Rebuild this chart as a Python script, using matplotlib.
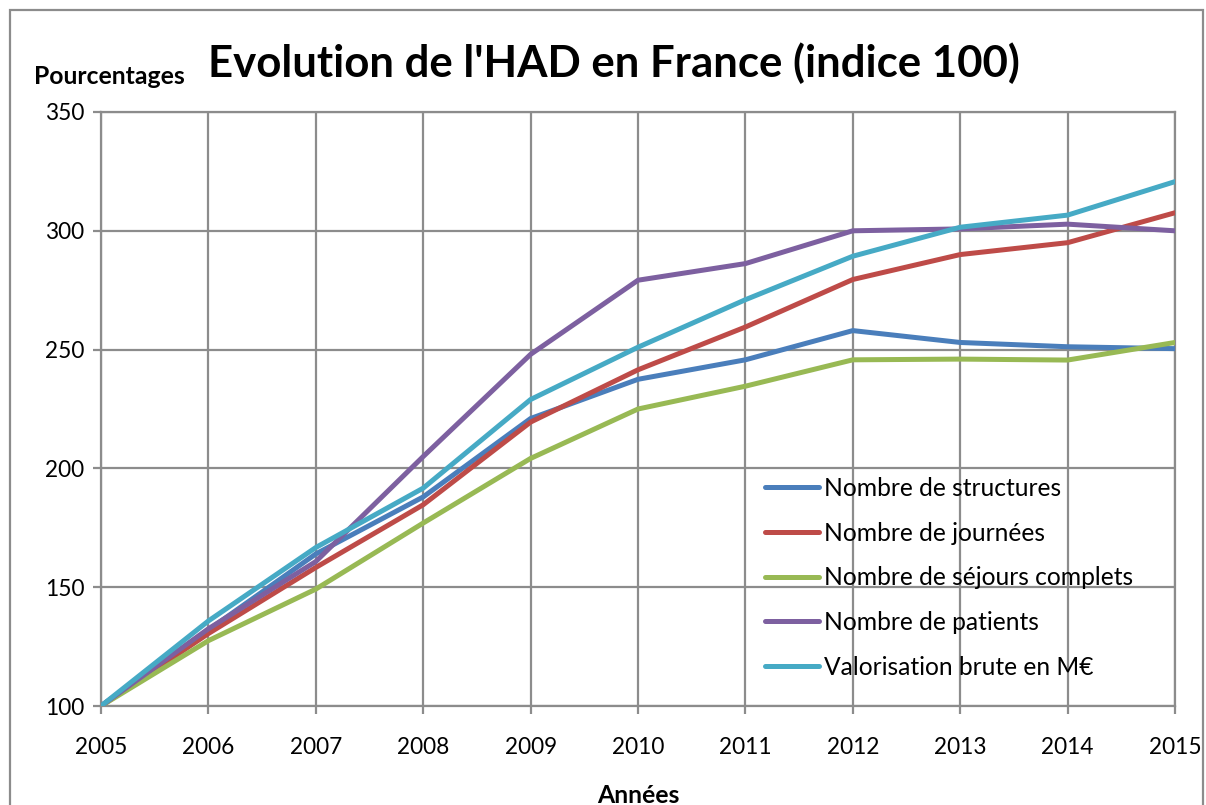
import matplotlib
matplotlib.use("Agg")
import matplotlib.pyplot as plt
from matplotlib.patches import Rectangle

plt.rcParams['font.family'] = ['Lato', 'DejaVu Sans']

years = [2005, 2006, 2007, 2008, 2009, 2010, 2011, 2012, 2013, 2014, 2015]
structures = [100, 132, 164, 188, 221, 237.5, 245.7, 258, 253, 251.2, 250.4]
journees = [100, 130.5, 158.3, 184.7, 219.5, 241.5, 259.5, 279.5, 290, 295, 307.6]
sejours = [100, 127.5, 149.2, 177, 204.2, 225, 234.6, 245.7, 246, 245.6, 253]
patients = [100, 132.5, 160.8, 205, 248, 279.2, 286.2, 300, 300.8, 302.8, 300]
valorisation = [100, 135.8, 166.7, 191.7, 229, 251, 271, 289.3, 301.5, 306.6, 320.7]

labels = ["Nombre de structures", "Nombre de journées",
          "Nombre de séjours complets", "Nombre de patients",
          "Valorisation brute en M€"]
colors = ["#4A7EBB", "#BE4B48", "#98B954", "#7D60A0", "#46AAC5"]
series = [structures, journees, sejours, patients, valorisation]

fig = plt.figure(figsize=(12.06, 8.05), dpi=100)
ax = fig.add_axes([101/1206, 1-706/805, (1175-101)/1206, (706-112)/805])

for s, c, l in zip(series, colors, labels):
    ax.plot(years, s, color=c, lw=3.6, label=l, solid_capstyle='round', zorder=3)

ax.set_xlim(2005, 2015)
ax.set_ylim(100, 350)
ax.set_xticks(years)
ax.set_yticks([100, 150, 200, 250, 300, 350])
ax.grid(True, color="#8c8c8c", lw=1.6, zorder=0)
for sp in ax.spines.values():
    sp.set_color("#8c8c8c")
    sp.set_linewidth(1.6)
ax.tick_params(axis='both', colors="#8c8c8c", width=1.6, length=6, labelsize=16.3, labelcolor='black')
ax.tick_params(axis='x', pad=16)
ax.tick_params(axis='y', pad=6)

fig.text(638/1206, 1-795/805, "Années", fontsize=17.8, fontweight='bold',
         ha='center', va='center')
fig.text(109/1206, 1-77/805, "Pourcentages", fontsize=17.8, fontweight='bold',
         ha='center', va='center')
fig.text(614/1206, 1-63/805, "Evolution de l'HAD en France (indice 100)",
         fontsize=31.5, fontweight='bold', ha='center', va='center')

leg = ax.legend(loc='upper left', bbox_to_anchor=((765-101)/1074, (706-477)/594),
                frameon=False, fontsize=17.7, handlelength=2.2, handletextpad=0.2,
                labelspacing=0.88, borderaxespad=0, borderpad=0)

fig.patches.append(Rectangle((10/1206, -0.1), (1203-10)/1206, 1.1 - 10/805,
                             transform=fig.transFigure, fill=False,
                             edgecolor="#8c8c8c", lw=1.6))

fig.savefig("out.png", dpi=100)
